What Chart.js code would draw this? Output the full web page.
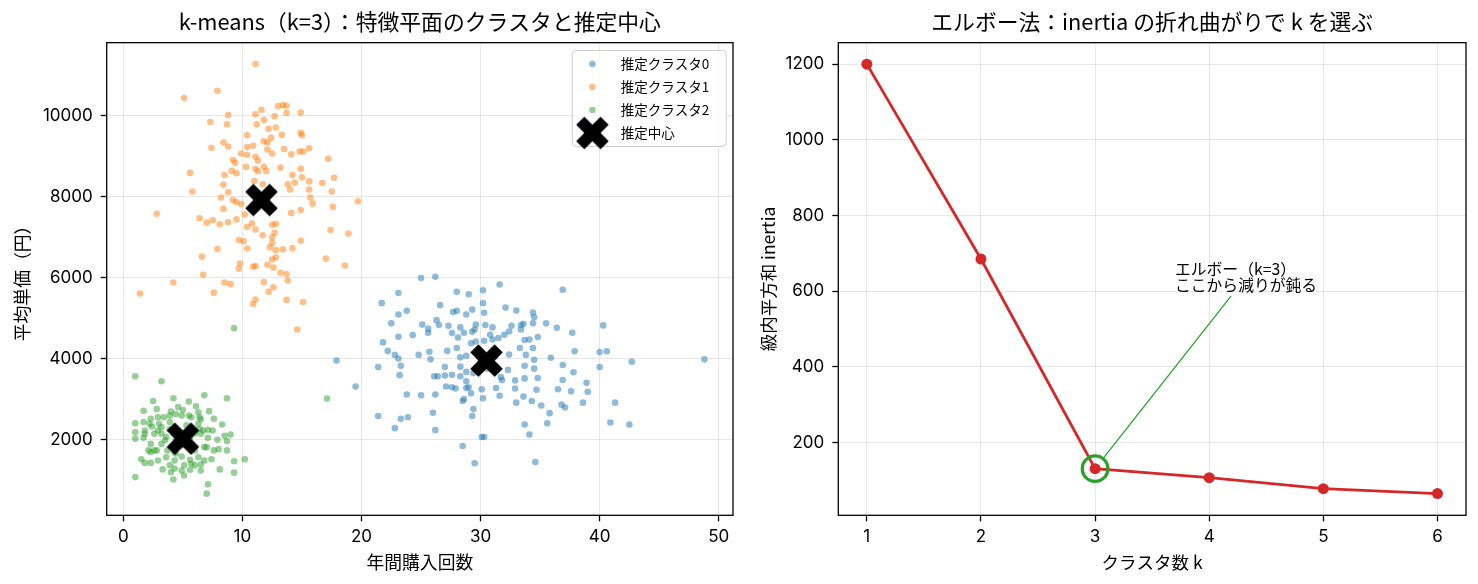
<!DOCTYPE html>
<html><head><meta charset="utf-8">
<script src="https://cdn.jsdelivr.net/npm/chart.js@4.4.1/dist/chart.umd.min.js"></script>
<style>
html,body{margin:0;padding:0;background:#fff;}
#wrap{position:relative;width:1478px;height:584px;background:#fff;}
canvas{position:absolute;top:0;}
#c1{left:0;} #c2{left:739px;}
</style></head><body>
<div id="wrap"><canvas id="c1" width="739" height="584"></canvas><canvas id="c2" width="739" height="584"></canvas></div>
<script>
// ---------- data (left: k-means scatter) ----------
const cluster0 = [[25.0,5990],[26.2,6020],[31.6,5830],[36.9,5700],[23.1,5620],[28.0,5650],[29.0,5590],[30.2,5690],[21.7,5370],[26.6,5320],[30.2,5370],[32.1,5260],[33.0,5190],[23.1,5090],[23.8,5180],[27.7,5150],[28.0,5180],[28.8,5090],[29.3,5210],[30.3,5130],[34.4,5140],[34.5,5020],[22.5,4870],[25.1,4840],[26.3,4950],[26.5,4830],[27.3,4810],[28.3,4770],[29.6,4840],[30.4,4830],[31.0,4770],[32.6,4810],[33.4,4830],[33.6,4860],[34.4,4870],[35.5,4870],[36.4,4760],[40.3,4820],[24.3,4580],[25.6,4740],[25.6,4640],[27.6,4630],[28.1,4520],[28.6,4640],[29.3,4660],[29.5,4720],[30.8,4590],[31.5,4510],[32.0,4590],[32.4,4670],[33.4,4720],[23.1,4540],[21.8,4400],[29.2,4380],[29.6,4420],[30.3,4440],[31.0,4470],[33.7,4460],[34.1,4470],[34.8,4530],[37.7,4640],[22.2,4190],[22.8,4090],[23.1,4000],[24.8,4090],[25.7,4170],[25.8,3980],[27.2,4190],[28.0,4260],[28.3,4030],[28.8,4070],[32.4,4100],[33.3,4260],[33.8,4090],[34.4,4260],[34.5,3970],[35.9,4020],[37.9,4180],[40.0,4160],[40.6,4180],[42.7,3920],[48.8,3980],[21.4,3790],[23.3,3820],[23.2,3590],[26.1,3560],[26.4,3560],[27.0,3790],[27.0,3580],[27.6,3600],[28.3,3800],[28.3,3560],[28.8,3670],[29.4,3640],[32.3,3720],[33.7,3820],[34.5,3750],[36.9,3840],[37.8,3660],[40.0,3790],[19.5,3310],[27.1,3310],[27.6,3290],[27.9,3260],[28.8,3440],[28.8,3270],[29.0,3290],[30.1,3240],[31.3,3270],[31.7,3540],[31.8,3470],[32.9,3460],[33.7,3510],[34.8,3520],[36.9,3470],[38.9,3400],[23.8,3110],[25.0,3090],[26.2,3110],[29.2,3140],[30.2,3020],[31.6,3080],[32.9,3260],[33.6,3060],[34.3,2950],[34.7,3230],[36.5,3240],[37.6,3190],[39.0,3180],[33.0,2910],[35.1,2840],[28.5,2950],[28.6,3000],[36.8,2860],[37.1,2790],[38.6,2910],[41.3,2910],[21.4,2580],[22.8,2280],[23.3,2510],[23.9,2550],[26.0,2660],[26.2,2230],[29.3,2580],[29.4,2750],[35.8,2650],[33.7,2370],[34.1,2120],[35.6,2400],[40.9,2420],[42.5,2370],[30.1,2060],[30.3,2060],[28.5,1840],[29.5,1410],[34.6,1440],[17.9,3950],[30.0,3900],[31.2,4050],[30.6,3750]];
const cluster1 = [[11.1,11280],[7.9,10620],[5.1,10440],[8.8,10020],[7.3,9850],[8.7,9790],[11.1,10040],[11.6,10150],[11.8,9900],[11.2,9790],[13.0,10240],[13.4,10270],[13.7,10250],[13.7,10070],[12.7,9990],[14.9,10080],[12.2,9680],[12.8,9710],[13.3,9530],[14.9,9580],[15.0,9520],[12.4,9460],[11.8,9370],[12.1,9340],[10.4,9520],[7.4,9210],[8.4,9340],[8.8,9240],[10.4,9230],[10.9,9260],[12.1,9170],[12.5,9070],[13.5,9180],[14.1,9050],[14.8,9120],[15.1,9120],[15.6,9200],[17.2,8940],[9.9,9070],[10.4,9040],[11.1,8990],[11.3,8890],[9.2,8910],[9.4,8840],[9.1,8640],[9.5,8580],[8.5,8540],[10.3,8740],[11.1,8690],[11.3,8630],[11.8,8740],[12.0,8640],[13.2,8720],[14.9,8690],[14.2,8540],[15.0,8480],[15.6,8380],[14.4,8350],[17.7,8470],[16.7,8340],[5.6,8590],[5.8,8130],[8.4,8300],[8.8,8110],[11.0,8390],[11.7,8310],[13.8,8310],[14.0,8180],[15.6,8180],[17.5,8130],[8.2,7980],[9.2,7920],[9.9,7820],[9.5,7870],[15.7,7980],[15.9,7830],[17.6,7750],[19.7,7890],[2.8,7580],[6.4,7470],[7.0,7360],[7.5,7420],[8.1,7320],[8.4,7700],[8.8,7370],[9.5,7440],[10.2,7560],[10.8,7340],[10.4,7260],[11.1,7190],[11.7,7050],[12.5,7310],[12.8,7330],[14.1,7600],[14.9,7670],[12.7,7110],[12.5,7000],[17.4,7180],[18.9,7090],[9.7,6930],[10.1,6900],[10.4,6720],[7.9,6710],[6.6,6520],[6.7,6070],[4.2,5880],[1.4,5610],[8.5,5880],[9.0,5840],[9.8,6350],[9.7,6220],[10.9,6270],[11.1,6290],[12.1,6320],[12.6,6250],[12.5,6450],[12.8,6500],[12.3,6750],[12.8,6680],[13.4,6700],[14.2,6730],[14.9,6910],[12.5,6860],[17.0,6470],[18.6,6300],[13.2,6120],[13.7,6090],[13.8,5930],[11.8,5890],[12.6,5760],[12.2,5650],[7.6,5630],[11.1,5460],[10.9,5350],[13.7,5450],[15.1,5400],[14.6,4720]];
const cluster2 = [[1.0,3560],[3.2,3440],[6.8,3090],[8.7,3020],[2.5,2950],[4.2,3020],[5.5,2940],[1.7,2710],[2.8,2750],[4.0,2690],[5.0,2730],[6.1,2820],[6.3,2670],[7.2,2700],[1.0,2400],[1.7,2430],[2.3,2510],[3.4,2550],[4.4,2630],[5.5,2590],[6.5,2500],[7.6,2510],[8.3,2370],[1.0,2180],[1.0,2020],[1.8,2220],[2.4,2320],[3.0,2390],[3.9,2430],[6.3,2390],[7.1,2240],[7.5,2220],[8.5,2090],[9.0,2120],[1.7,2040],[2.3,1890],[2.8,1730],[3.2,2140],[3.5,1980],[6.5,2140],[7.1,2040],[7.9,1990],[8.7,1960],[8.7,1730],[1.5,1510],[1.8,1420],[2.3,1420],[2.9,1480],[3.6,1560],[4.3,1480],[4.9,1580],[5.6,1500],[6.3,1560],[6.8,1480],[7.4,1510],[8.0,1760],[9.3,1460],[10.2,1510],[3.3,1260],[4.0,1190],[4.9,1230],[5.6,1250],[6.0,1360],[6.5,1380],[8.1,1260],[9.3,1180],[1.0,1070],[4.2,1010],[7.1,890],[7.0,660],[2.3,1690],[3.7,1730],[6.8,1810],[6.0,1730],[5.6,1810],[4.4,1650],[3.2,2300],[6.4,2260],[2.6,2140],[3.9,1360],[5.1,1360],[5.7,2550],[4.6,2800],[9.3,4750],[17.1,3010],[3.9,2590],[4.9,2590],[6.4,2550],[6.7,2220],[7.0,1810],[7.6,1730],[4.3,1690],[3.6,2060],[2.9,2220],[3.2,1890],[2.6,1730],[5.7,1400],[6.5,1230],[5.1,1110],[4.3,1280],[2.9,2550],[2.2,2390],[1.8,2140],[2.1,1730],[4.2,2150],[5.6,2050],[4.8,1850],[5.3,2350],[4.4,2000],[5.8,1800],[3.9,2250],[6.0,2150]];
const centers = [[30.5,3950],[11.6,7920],[5.0,2020]];
const clusterLabels = ['推定クラスタ0','推定クラスタ1','推定クラスタ2','推定中心'];
const leftXTicks = [0,10,20,30,40,50];
const leftYTicks = [2000,4000,6000,8000,10000];

// ---------- data (right: elbow) ----------
const kValues = [1,2,3,4,5,6];
const inertia = [1200,685,131,107,78,65];
const elbowK = 3;
const annotLines = ['エルボー（k=3）','ここから減りが鈍る'];
const annotXY = [3.7,600];
const rightXTicks = [1,2,3,4,5,6];
const rightYTicks = [200,400,600,800,1000,1200];

// ---------- styling ----------
const FF = "'Noto Sans CJK JP', 'Noto Sans', sans-serif";
const TF = "Inter, 'Noto Sans CJK JP', sans-serif";
Chart.defaults.font.family = FF;
Chart.defaults.color = '#000';
const GRID = 'rgba(176,176,176,0.3)';

function makeX(size){
  const s = Math.ceil(size) + 2;
  const c = document.createElement('canvas'); c.width = s; c.height = s;
  const g = c.getContext('2d');
  g.translate(s/2, s/2); g.rotate(Math.PI/4);
  const u = size/6;
  const pts = [[-1,-3],[1,-3],[1,-1],[3,-1],[3,1],[1,1],[1,3],[-1,3],[-1,1],[-3,1],[-3,-1],[-1,-1]];
  g.beginPath();
  pts.forEach((p,i)=>{ if(i) g.lineTo(p[0]*u,p[1]*u); else g.moveTo(p[0]*u,p[1]*u); });
  g.closePath(); g.fillStyle = '#000'; g.fill();
  return c;
}
const xMarker = makeX(34.5);

const toXY = arr => arr.map(p => ({x:p[0], y:p[1]}));

const framePlugin = {
  id:'frame',
  afterDatasetsDraw(chart){
    const {ctx, chartArea:a} = chart;
    ctx.save(); ctx.strokeStyle = '#000'; ctx.lineWidth = 1.3;
    ctx.strokeRect(a.left, a.top, a.right-a.left, a.bottom-a.top);
    ctx.restore();
  }
};

function rrect(ctx,x,y,w,h,r){
  ctx.beginPath();
  ctx.moveTo(x+r,y); ctx.lineTo(x+w-r,y); ctx.quadraticCurveTo(x+w,y,x+w,y+r);
  ctx.lineTo(x+w,y+h-r); ctx.quadraticCurveTo(x+w,y+h,x+w-r,y+h);
  ctx.lineTo(x+r,y+h); ctx.quadraticCurveTo(x,y+h,x,y+h-r);
  ctx.lineTo(x,y+r); ctx.quadraticCurveTo(x,y,x+r,y); ctx.closePath();
}

const legendPlugin = {
  id:'inlegend',
  afterDraw(chart){
    const {ctx, chartArea:a} = chart;
    const w = 154, h = 96, x = a.right - 7.3 - w, y = a.top + 7.3;
    ctx.save();
    rrect(ctx, x+0.5, y+0.5, w, h, 4);
    ctx.fillStyle = 'rgba(255,255,255,0.8)'; ctx.fill();
    ctx.strokeStyle = '#cccccc'; ctx.lineWidth = 1; ctx.stroke();
    ctx.font = '13.5px ' + FF; ctx.textBaseline = 'middle'; ctx.textAlign = 'left';
    chart.data.datasets.forEach((ds,i)=>{
      const ry = y + 14 + i*23;
      const mx = x + 20.7;
      if (ds.pointStyle && typeof ds.pointStyle === 'object') {
        ctx.drawImage(ds.pointStyle, mx - ds.pointStyle.width/2, ry - ds.pointStyle.height/2);
      } else {
        ctx.beginPath(); ctx.arc(mx, ry, 3.3, 0, Math.PI*2);
        ctx.fillStyle = ds.backgroundColor; ctx.fill();
      }
      ctx.fillStyle = '#000';
      ctx.fillText(ds.label, x + 49, ry);
    });
    ctx.restore();
  }
};

function axisCommon(ticksArr, extra){
  return Object.assign({
    type:'linear',
    afterBuildTicks: s => { s.ticks = ticksArr.map(v => ({value:v})); },
    grid:{color:GRID, lineWidth:1, tickColor:'#000', tickLength:6, tickWidth:1.3},
    border:{display:false},
  }, extra);
}
function fixX(h){ return s => { s.height = h; s.paddingLeft = 0; s.paddingRight = 0; s.paddingTop = 0; s.paddingBottom = 0; }; }
function fixY(w){ return s => { s.width = w; s.paddingLeft = 0; s.paddingRight = 0; s.paddingTop = 0; s.paddingBottom = 0; }; }

// ---------- left chart ----------
new Chart(document.getElementById('c1'), {
  type:'scatter',
  data:{ datasets:[
    {label:clusterLabels[0], data:toXY(cluster0), backgroundColor:'rgba(31,119,180,0.5)', pointRadius:3.3, borderWidth:0, order:3},
    {label:clusterLabels[1], data:toXY(cluster1), backgroundColor:'rgba(255,127,14,0.5)', pointRadius:3.3, borderWidth:0, order:2},
    {label:clusterLabels[2], data:toXY(cluster2), backgroundColor:'rgba(44,160,44,0.5)', pointRadius:3.3, borderWidth:0, order:1},
    {label:clusterLabels[3], data:toXY(centers), pointStyle:xMarker, pointRadius:16, backgroundColor:'#000', borderWidth:0, order:0}
  ]},
  options:{
    responsive:false, animation:false, events:[],
    layout:{autoPadding:false, padding:{left:0, right:6, top:0, bottom:0}},
    plugins:{
      legend:{display:false}, tooltip:{enabled:false},
      title:{display:true, fullSize:false, text:'k-means（k=3）：特徴平面のクラスタと推定中心', color:'#000',
             font:{family:FF, size:21.8, weight:'normal'}, padding:{top:8.6, bottom:7.9}}
    },
    scales:{
      x: axisCommon(leftXTicks, {min:-1.4, max:51.2,
        ticks:{color:'#000', font:{family:TF, size:17}, padding:5.5, maxRotation:0, callback:v=>String(v)},
        title:{display:true, text:'年間購入回数', color:'#000', font:{size:17.8}, padding:{top:0,bottom:11.3}},
        afterFit: fixX(68.7)}),
      y: axisCommon(leftYTicks, {min:125, max:11810,
        ticks:{color:'#000', font:{family:TF, size:17}, padding:8, callback:v=>String(v)},
        title:{display:true, text:'平均単価（円）', color:'#000', font:{size:17.8}, padding:{top:11.3,bottom:0}},
        afterFit: fixY(106.7)})
    }
  },
  plugins:[framePlugin, legendPlugin]
});

// ---------- right chart ----------
const annotPlugin = {
  id:'annot',
  afterDraw(chart){
    const {ctx} = chart; const xs = chart.scales.x, ys = chart.scales.y;
    const size = 15.8, lh = 16.5;
    const tx = xs.getPixelForValue(annotXY[0]), ty = ys.getPixelForValue(annotXY[1]);
    ctx.save();
    ctx.font = size + 'px ' + FF;
    const n = annotLines.length;
    const maxW = Math.max(...annotLines.map(t => ctx.measureText(t).width));
    const top = ty - (n-1)*lh - 0.88*size, bottom = ty + 0.12*size;
    const cx = tx + maxW/2, cy = (top+bottom)/2;
    const px = xs.getPixelForValue(elbowK), py = ys.getPixelForValue(inertia[kValues.indexOf(elbowK)]);
    const dx = px - cx, dy = py - cy, len = Math.hypot(dx,dy), ux = dx/len, uy = dy/len;
    const t0 = (bottom + 3 - cy)/uy;
    const sx = cx + ux*t0, sy = cy + uy*t0;
    const ex = px - ux*14, ey = py - uy*14;
    ctx.strokeStyle = '#2ca02c'; ctx.lineWidth = 1.3;
    ctx.beginPath(); ctx.moveTo(sx,sy); ctx.lineTo(ex,ey); ctx.stroke();
    ctx.fillStyle = '#000'; ctx.textBaseline = 'alphabetic'; ctx.textAlign = 'left';
    annotLines.forEach((t,i) => ctx.fillText(t, tx, ty - (n-1-i)*lh));
    ctx.restore();
  }
};

new Chart(document.getElementById('c2'), {
  type:'scatter',
  data:{ datasets:[
    {label:'inertia', data:kValues.map((k,i)=>({x:k, y:inertia[i]})), showLine:true,
     borderColor:'#d62728', borderWidth:2.8, backgroundColor:'#d62728', pointBackgroundColor:'#d62728',
     pointRadius:5.5, pointBorderWidth:0, order:1},
    {label:'elbow', data:[{x:elbowK, y:inertia[kValues.indexOf(elbowK)]}], showLine:false,
     pointRadius:12.8, pointBorderWidth:3.3, pointBorderColor:'#2ca02c', pointBackgroundColor:'rgba(0,0,0,0)', order:0}
  ]},
  options:{
    responsive:false, animation:false, events:[],
    layout:{autoPadding:false, padding:{left:0, right:12, top:0, bottom:0}},
    plugins:{
      legend:{display:false}, tooltip:{enabled:false},
      title:{display:true, fullSize:false, text:'エルボー法：inertia の折れ曲がりで k を選ぶ', color:'#000',
             font:{family:FF, size:21.8, weight:'normal'}, padding:{top:8.6, bottom:7.9}}
    },
    scales:{
      x: axisCommon(rightXTicks, {min:0.75, max:6.25,
        ticks:{color:'#000', font:{family:TF, size:17}, padding:5.5, maxRotation:0, callback:v=>String(v)},
        title:{display:true, text:'クラスタ数 k', color:'#000', font:{size:17.5}, padding:{top:0,bottom:11.5}},
        afterFit: fixX(68.7)}),
      y: axisCommon(rightYTicks, {min:7.7, max:1256.8,
        ticks:{color:'#000', font:{family:TF, size:17}, padding:8, callback:v=>String(v)},
        title:{display:true, text:'級内平方和 inertia', color:'#000', font:{size:17.5}, padding:{top:18.5,bottom:0}},
        afterFit: fixY(99.3)})
    }
  },
  plugins:[framePlugin, annotPlugin]
});
</script>
</body></html>
